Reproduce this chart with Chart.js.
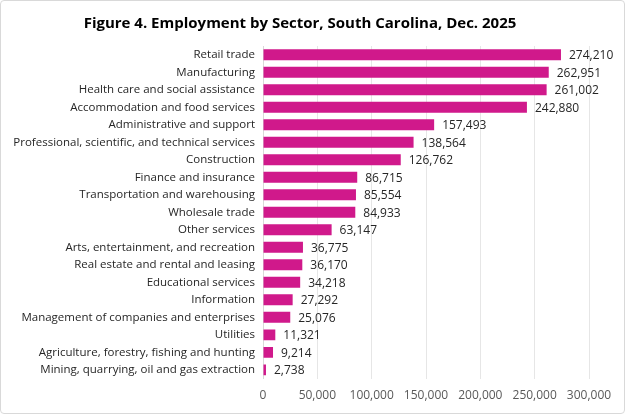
<!DOCTYPE html>
<html>
<head>
<meta charset="utf-8">
<script src="https://cdn.jsdelivr.net/npm/chart.js@4"></script>
<style>
  html, body { margin: 0; padding: 0; background: #fff; }
  #wrap { position: relative; width: 625px; height: 414px; box-sizing: border-box; border: 1px solid #d9d9d9; border-radius: 4px; }
  canvas { display: block; }
</style>
</head>
<body>
<div id="wrap"><canvas id="mycanvas" width="623" height="412"></canvas></div>
<script>
// Employment by sector, South Carolina, Dec. 2025
var sectors = [
    'Retail trade',
    'Manufacturing',
    'Health care and social assistance',
    'Accommodation and food services',
    'Administrative and support',
    'Professional, scientific, and technical services',
    'Construction',
    'Finance and insurance',
    'Transportation and warehousing',
    'Wholesale trade',
    'Other services',
    'Arts, entertainment, and recreation',
    'Real estate and rental and leasing',
    'Educational services',
    'Information',
    'Management of companies and enterprises',
    'Utilities',
    'Agriculture, forestry, fishing and hunting',
    'Mining, quarrying, oil and gas extraction'
];
var employment = [274210, 262951, 261002, 242880, 157493, 138564, 126762, 86715, 85554,
                  84933, 63147, 36775, 36170, 34218, 27292, 25076, 11321, 9214, 2738];
var xTicks = [0, 50000, 100000, 150000, 200000, 250000, 300000];

var fontFam = "'Open Sans', 'Noto Sans', sans-serif";

// draw the value next to each bar
var valueLabels = {
    id: 'valueLabels',
    afterDatasetsDraw: function(chart) {
        var ctx = chart.ctx;
        var meta = chart.getDatasetMeta(0);
        ctx.save();
        ctx.font = '12px ' + fontFam;
        ctx.fillStyle = '#262626';
        ctx.textAlign = 'left';
        ctx.textBaseline = 'middle';
        meta.data.forEach(function(bar, i) {
            ctx.fillText(employment[i].toLocaleString('en-US'), bar.x + 8, bar.y + 1);
        });
        ctx.restore();
    }
};

var ctx1 = document.getElementById('mycanvas');
var barGraph = new Chart(ctx1, {
    type: 'bar',
    data: {
        labels: sectors,
        datasets: [{
            label: 'Employment',
            data: employment,
            backgroundColor: '#D0198B',
            borderWidth: 0,
            categoryPercentage: 0.8,
            barPercentage: 0.78
        }]
    },
    options: {
        indexAxis: 'y',
        responsive: false,
        animation: false,
        devicePixelRatio: 1,
        layout: { padding: { left: 10, right: 35, top: 4, bottom: 0 } },
        plugins: {
            legend: { display: false },
            tooltip: { enabled: false },
            title: {
                display: true,
                text: 'Figure 4. Employment by Sector, South Carolina, Dec. 2025',
                color: '#000',
                font: { family: fontFam, size: 15, weight: 'bold' },
                padding: { top: 10, bottom: 13 }
            }
        },
        scales: {
            x: {
                min: 0,
                max: 300000,
                afterBuildTicks: function(axis) {
                    axis.ticks = xTicks.map(function(v) { return { value: v }; });
                },
                ticks: {
                    color: '#595959',
                    font: { family: fontFam, size: 12 },
                    padding: 10,
                    callback: function(v) { return v.toLocaleString('en-US'); }
                },
                grid: { color: '#e6e6e6', drawTicks: false },
                border: { display: false }
            },
            y: {
                afterFit: function(axis) { axis.width = 252; },
                ticks: {
                    color: '#262626',
                    font: { family: fontFam, size: 11.5 },
                    padding: 8,
                    autoSkip: false
                },
                grid: { display: false, drawTicks: false },
                border: { display: true, color: '#d9d9d9' }
            }
        }
    },
    plugins: [valueLabels]
});
</script>
</body>
</html>
